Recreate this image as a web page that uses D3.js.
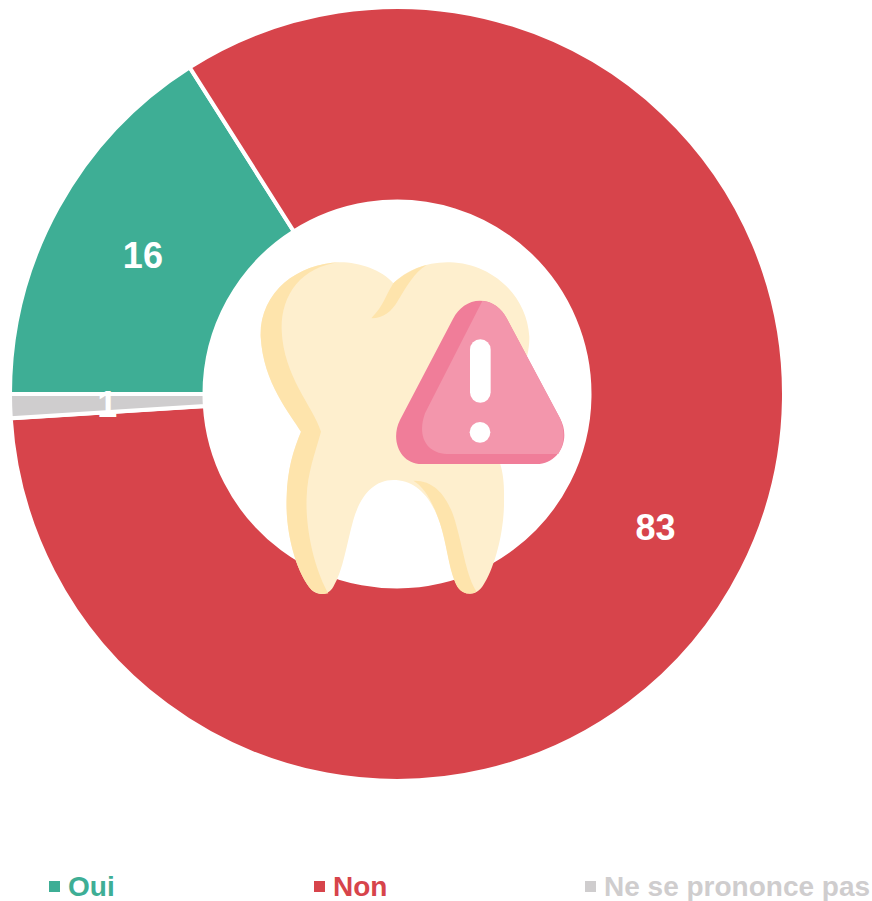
<!DOCTYPE html>
<html>
<head>
<meta charset="utf-8">
<script src="https://cdn.jsdelivr.net/npm/d3@7"></script>
<style>
  html, body { margin: 0; padding: 0; background: #fff; }
  svg { display: block; font-family: "Liberation Sans", Arial, sans-serif; font-weight: bold; }
</style>
</head>
<body>
<div id="chart"></div>
<script>
// data
var categories = ['Oui', 'Non', 'Ne se prononce pas'];
var values = [16, 83, 1];
var colors = ['#3EAE95', '#D7444B', '#CFCDCE'];

var width = 872, height = 901;
var cx = 397, cy = 394, outerR = 387, innerR = 192.5;

var svg = d3.select('#chart').append('svg')
  .attr('width', width)
  .attr('height', height);

var color = d3.scaleOrdinal().domain(categories).range(colors);
var legendX = d3.scaleOrdinal().domain(categories).range([49, 314, 585]);

var rows = categories.map(function (c, i) {
  return { name: c, value: values[i] };
});

// first slice starts at 9 o'clock and goes clockwise
var pie = d3.pie()
  .sort(null)
  .startAngle(-Math.PI / 2)
  .endAngle(1.5 * Math.PI)
  .value(function (d) { return d.value; });

var arc = d3.arc().innerRadius(innerR).outerRadius(outerR);
var labelArc = d3.arc().innerRadius(195).outerRadius(385);

var g = svg.append('g').attr('transform', 'translate(' + cx + ',' + cy + ')');

g.selectAll('path.slice').data(pie(rows)).enter().append('path')
  .attr('class', 'slice')
  .attr('d', arc)
  .attr('fill', function (d) { return color(d.data.name); })
  .attr('stroke', '#fff')
  .attr('stroke-width', 4);

// tooth icon, drawn in a 3x space
var icon = svg.append('g').attr('transform', 'translate(250,250) scale(0.33333)');

icon.append('path').attr('fill', '#FEEFCE')
  .attr('d', 'M430,100 C470,60 530,35 600,37 C720,40 830,130 838,260 C840,340 790,420 755,540 L750,640 C760,670 763,710 762,740 C765,850 730,960 700,1005 C680,1040 640,1040 620,1005 C600,970 590,880 570,820 C540,730 490,690 430,690 C370,690 330,740 310,810 C290,880 280,960 250,1010 C235,1037 205,1037 185,1020 C140,970 105,850 110,740 C112,660 130,600 153,545 C120,490 40,400 32,260 C28,130 140,40 270,37 C330,37 395,60 430,100 Z');

icon.append('path').attr('fill', '#FEE4AC')
  .attr('d', 'M270,37 C140,40 28,130 32,260 C40,400 120,490 153,545 C130,600 112,660 110,740 C105,850 140,970 185,1020 C200,1032 220,1034 235,1030 C200,970 165,850 170,740 C172,670 195,610 213,545 C190,470 100,380 95,240 C92,140 150,50 270,37 Z');

icon.append('path').attr('fill', '#FEE4AC')
  .attr('d', 'M365,203 C400,170 410,130 430,100 C450,80 490,55 530,45 C490,70 470,110 445,150 C425,185 400,205 365,205 Z');

icon.append('path').attr('fill', '#FEE4AC')
  .attr('d', 'M490,692 C560,690 600,750 620,830 C640,900 650,980 680,1025 C650,1040 625,1025 615,995 C595,950 590,880 570,820 C545,745 520,710 490,692 Z');

icon.append('path').attr('fill', '#F07D99')
  .attr('d', 'M690,152 C725,152 755,175 770,205 L930,505 C965,570 925,642 860,642 L515,642 C450,642 420,570 450,510 L610,205 C625,175 655,152 690,152 Z');

icon.append('path').attr('fill', '#F396AC')
  .attr('d', 'M697,153 C730,155 755,175 770,205 L930,505 C945,540 945,580 925,612 L590,612 C530,610 500,560 525,490 Z');

icon.append('rect').attr('fill', '#fff')
  .attr('x', 660).attr('y', 268).attr('width', 62).attr('height', 190).attr('rx', 31);

icon.append('circle').attr('fill', '#fff')
  .attr('cx', 690).attr('cy', 547).attr('r', 31);

// value labels go above the icon
g.selectAll('text.value').data(pie(rows)).enter().append('text')
  .attr('class', 'value')
  .attr('transform', function (d) {
    var c = labelArc.centroid(d);
    return 'translate(' + c[0] + ',' + c[1] + ')';
  })
  .attr('dy', '0.39em')
  .attr('text-anchor', 'middle')
  .attr('fill', '#fff')
  .attr('font-size', 36)
  .text(function (d) { return d.data.value; });

// legend
var legend = svg.selectAll('g.legend').data(categories).enter().append('g')
  .attr('class', 'legend')
  .attr('transform', function (d) { return 'translate(' + legendX(d) + ',881)'; });

legend.append('rect')
  .attr('width', 11)
  .attr('height', 11)
  .attr('fill', function (d) { return color(d); });

legend.append('text')
  .attr('x', 19)
  .attr('y', 15)
  .attr('font-size', 28)
  .attr('fill', function (d) { return color(d); })
  .text(function (d) { return d; });
</script>
</body>
</html>
